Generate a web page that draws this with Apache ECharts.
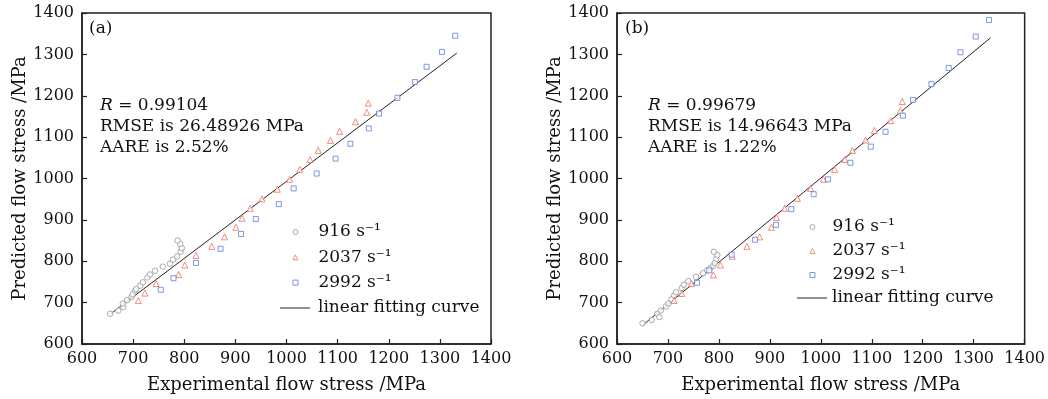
<!DOCTYPE html>
<html>
<head>
<meta charset="utf-8">
<script src="https://cdn.jsdelivr.net/npm/echarts@6/dist/echarts.min.js"></script>
<style>
html,body{margin:0;padding:0;background:#fff;}
#chart{width:1048px;height:399px;}
</style>
</head>
<body>
<div id="chart"></div>
<script>
// ---- data: panel (a) ----
const a916 = [[655,673],[671,681],[681,689],[680,698],[688,706],[697,714],[699,720],[704,729],[706,733],[714,741],[719,749],[728,761],[733,768],[743,777],[758,787],[772,794],[778,804],[786,812],[793,823],[795,832],[792,842],[787,850]];
const a2037 = [[710,705],[723,723],[745,746],[789,768],[801,791],[823,814],[854,836],[879,859],[901,882],[913,904],[929,928],[952,951],[982,974],[1006,998],[1026,1022],[1046,1046],[1062,1068],[1086,1092],[1104,1114],[1135,1137],[1157,1160],[1160,1182]];
const a2992 = [[754,731],[779,759],[823,796],[871,830],[911,866],[940,902],[985,938],[1014,976],[1059,1012],[1096,1048],[1125,1084],[1161,1121],[1181,1157],[1217,1195],[1251,1233],[1274,1270],[1304,1306],[1330,1345]];
const aFit = [[655,672],[1333,1303]];
// ---- data: panel (b) ----
const b916 = [[650,650],[668,658],[679,673],[683,665],[686,681],[696,691],[701,698],[707,708],[712,717],[716,725],[727,735],[731,743],[740,752],[755,762],[769,771],[777,778],[784,784],[789,789],[792,796],[795,806],[797,815],[790,823]];
const b2037 = [[712,705],[727,722],[746,746],[789,767],[803,791],[826,812],[855,836],[880,859],[903,882],[913,906],[929,928],[954,952],[980,976],[1005,998],[1027,1022],[1047,1046],[1062,1068],[1088,1093],[1105,1116],[1137,1140],[1156,1164],[1160,1186]];
const b2992 = [[757,748],[781,778],[825,816],[871,852],[912,888],[942,926],[986,962],[1014,998],[1058,1038],[1098,1077],[1127,1113],[1161,1152],[1181,1190],[1217,1228],[1251,1267],[1274,1305],[1304,1343],[1330,1383]];
const bFit = [[650,645],[1333,1340]];
// ---- labels ----
const seriesNames = ['916 s\u207B\u00B9', '2037 s\u207B\u00B9', '2992 s\u207B\u00B9', 'linear fitting curve'];
const xTitle = 'Experimental flow stress /MPa';
const yTitle = 'Predicted flow stress /MPa';
const panelLabels = ['(a)', '(b)'];
const statsA = ['0.99104', 'RMSE is 26.48926 MPa', 'AARE is 2.52%'];
const statsB = ['0.99679', 'RMSE is 14.96643 MPa', 'AARE is 1.22%'];

const FONT = 'DejaVu Serif';
const colors = ['#8c8c8c', '#f0604c', '#4d6fd6', '#222'];
const symbols = ['circle', 'triangle', 'rect'];
const sizes = [5.5, 6, 5];

const chart = echarts.init(document.getElementById('chart'));

function axisX(gi) {
  return {
    gridIndex: gi, type: 'value', min: 600, max: 1400, interval: 100,
    name: xTitle, nameLocation: 'middle', nameGap: 32,
    nameTextStyle: {fontFamily: FONT, fontSize: 18, color: '#111'},
    axisLine: {show: true, onZero: false, lineStyle: {color: '#222', width: 1.5}},
    axisTick: {show: true, inside: true, length: 5, lineStyle: {color: '#222', width: 1.2}},
    axisLabel: {fontFamily: FONT, fontSize: 16, color: '#111', margin: 7, formatter: v => String(v)},
    splitLine: {show: false}
  };
}
function axisY(gi) {
  return {
    gridIndex: gi, type: 'value', min: 600, max: 1400, interval: 100,
    name: yTitle, nameLocation: 'middle', nameGap: 49,
    nameTextStyle: {fontFamily: FONT, fontSize: 18, color: '#111'},
    axisLine: {show: true, onZero: false, lineStyle: {color: '#222', width: 1.5}},
    axisTick: {show: true, inside: true, length: 5, lineStyle: {color: '#222', width: 1.2}},
    axisLabel: {fontFamily: FONT, fontSize: 16, color: '#111', margin: 8, formatter: v => String(v)},
    splitLine: {show: false}
  };
}
function markerStyle(i) {
  return {color: '#fff', borderColor: colors[i], borderWidth: 0.9};
}
function scatter(name, data, i, gi) {
  return {
    name: name, type: 'scatter', xAxisIndex: gi, yAxisIndex: gi, data: data,
    symbol: symbols[i], symbolSize: sizes[i],
    itemStyle: markerStyle(i),
    emphasis: {disabled: true}, silent: true, z: 3
  };
}
function fit(data, gi) {
  return {
    name: seriesNames[3], type: 'line', xAxisIndex: gi, yAxisIndex: gi, data: data,
    symbol: 'none', lineStyle: {color: '#222', width: 1}, itemStyle: {color: '#222'},
    emphasis: {disabled: true}, silent: true, z: 2
  };
}
function statsText(stats, x, y) {
  return {
    type: 'text', left: x, top: y, silent: true,
    style: {
      text: '{i|R} = ' + stats[0] + '\n' + stats[1] + '\n' + stats[2],
      font: '17px "' + FONT + '"', fill: '#111', lineHeight: 21,
      rich: {i: {fontStyle: 'italic', fontFamily: FONT, fontSize: 17, fill: '#111', lineHeight: 21}}
    }
  };
}
const legendText = (padLeft) => ({fontFamily: FONT, fontSize: 17, color: '#111', lineHeight: 18, padding: [0, 0, 0, padLeft]});
function scatterLegend(left, top, gap, padLeft) {
  return {
    show: true, orient: 'vertical', left: left, top: top, padding: 0,
    data: [0, 1, 2].map(i => ({name: seriesNames[i], icon: symbols[i], itemStyle: markerStyle(i)})),
    itemWidth: 5, itemHeight: 5, itemGap: gap, selectedMode: false,
    textStyle: legendText(padLeft)
  };
}
function lineLegend(left, top, padLeft) {
  return {
    show: true, orient: 'vertical', left: left, top: top, padding: 0,
    data: [{name: seriesNames[3], icon: 'rect', itemStyle: {color: '#222', borderWidth: 0}}],
    itemWidth: 30, itemHeight: 1, selectedMode: false,
    textStyle: legendText(padLeft)
  };
}

const option = {
  backgroundColor: '#fff',
  animation: false,
  grid: [
    {left: 82, top: 13, width: 409, height: 334, show: true, borderColor: '#222', borderWidth: 1.5, backgroundColor: 'transparent'},
    {left: 617, top: 13, width: 409, height: 334, show: true, borderColor: '#222', borderWidth: 1.5, backgroundColor: 'transparent'}
  ],
  xAxis: [axisX(0), axisX(1)],
  yAxis: [axisY(0), axisY(1)],
  legend: [
    scatterLegend(292.5, 223, 7.3, 15.5),
    lineLegend(280, 299, 3),
    scatterLegend(809.5, 218, 6, 12.5),
    lineLegend(797, 289, 0)
  ],
  series: [
    scatter(seriesNames[0], a916, 0, 0),
    scatter(seriesNames[1], a2037, 1, 0),
    scatter(seriesNames[2], a2992, 2, 0),
    fit(aFit, 0),
    scatter(seriesNames[0], b916, 0, 1),
    scatter(seriesNames[1], b2037, 1, 1),
    scatter(seriesNames[2], b2992, 2, 1),
    fit(bFit, 1)
  ],
  graphic: [
    {type: 'text', left: 89, top: 20, silent: true, style: {text: panelLabels[0], font: '17px "' + FONT + '"', fill: '#111'}},
    {type: 'text', left: 625, top: 20, silent: true, style: {text: panelLabels[1], font: '17px "' + FONT + '"', fill: '#111'}},
    statsText(statsA, 100, 95),
    statsText(statsB, 648, 95)
  ]
};
chart.setOption(option);
</script>
</body>
</html>
